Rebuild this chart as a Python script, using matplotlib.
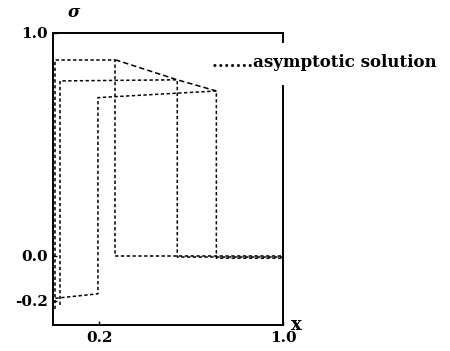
import matplotlib
matplotlib.use("Agg")
import matplotlib.pyplot as plt

# profiles of sigma along x
xa = [0.01, 0.01, 0.27, 0.27, 1.0]
ya = [-0.24, 0.88, 0.88, 0.0, 0.0]

xb = [0.03, 0.03, 0.54, 0.54, 1.0]
yb = [-0.22, 0.785, 0.79, -0.005, -0.005]

xc = [0.01, 0.195, 0.195, 0.71, 0.71, 1.0]
yc = [-0.19, -0.17, 0.71, 0.74, -0.01, -0.01]

# asymptotic solution through the front tops
xs = [0.27, 0.54, 0.71]
ys = [0.88, 0.79, 0.74]

xticks = [0.2, 1.0]
yticks = [-0.2, 0.0, 1.0]

plt.rcParams['font.family'] = ['DejaVu Serif']

fig = plt.figure(figsize=(4.5, 3.51), dpi=100)
ax = fig.add_axes([0.118, 0.074, 0.511, 0.832])

dash = (0, (2.2, 1.6))
for xx, yy in [(xa, ya), (xb, yb), (xc, yc)]:
    ax.plot(xx, yy, color='black', lw=1.1, ls=dash)
ax.plot(xs, ys, color='black', lw=1.1, ls=(0, (3.5, 2)))

ax.set_xlim(0, 1.0)
ax.set_ylim(-0.31, 1.0)
ax.set_xticks(xticks)
ax.set_xticklabels(['0.2', '1.0'], fontsize=11, fontweight='bold')
ax.set_yticks(yticks)
ax.set_yticklabels(['-0.2', '0.0', '1.0'], fontsize=11, fontweight='bold')
ax.tick_params(direction='in', length=3, width=1, pad=4)

for s in ['left', 'top', 'bottom']:
    ax.spines[s].set_linewidth(1.4)
ax.spines['right'].set_visible(False)
# right border is broken where the legend sits
ax.plot([1, 1], [0, 0.82], color='black', lw=1.4, transform=ax.transAxes, clip_on=False)
ax.plot([1, 1], [0.97, 1], color='black', lw=1.4, transform=ax.transAxes, clip_on=False)

ax.text(0.09, 1.07, 'σ', transform=ax.transAxes, fontsize=12, style='italic',
        fontweight='bold', ha='center', va='center')
ax.text(1.06, 0.0, 'x', transform=ax.transAxes, fontsize=13, fontweight='bold',
        ha='center', va='center')
ax.text(0.69, 0.9, '.......asymptotic solution', transform=ax.transAxes,
        fontsize=12, fontweight='bold', ha='left', va='center')

fig.savefig('out.png', dpi=100)
